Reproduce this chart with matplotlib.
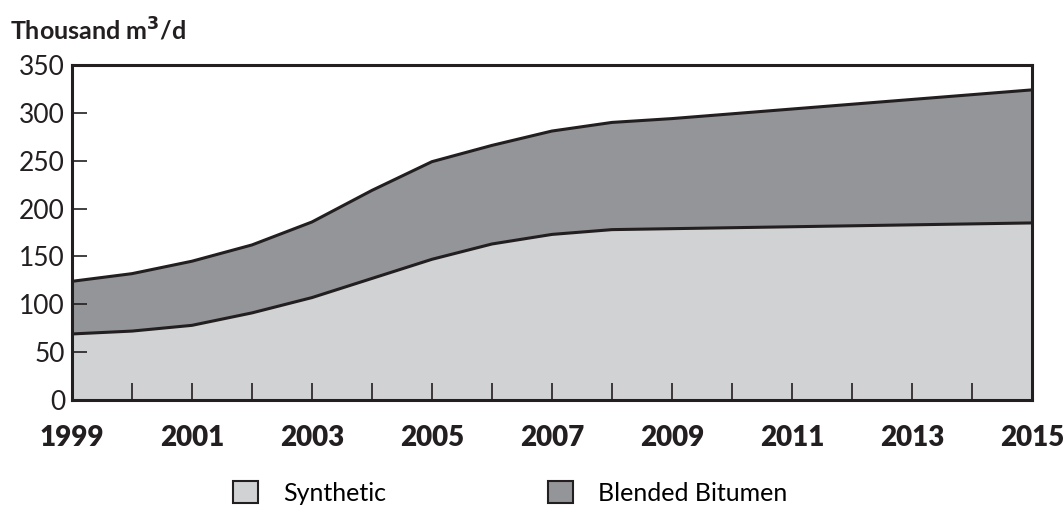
import matplotlib.pyplot as plt
from matplotlib.patches import Patch
import numpy as np

plt.rcParams['font.family'] = ['Lato', 'DejaVu Sans']

# Thousand m3/d
years = np.arange(1999, 2016)
synthetic = [69, 72, 78, 91, 107, 127, 147, 163, 173, 178, 179, 180, 181, 182, 183, 184, 185]
bitumen = [55, 60, 67, 71, 79, 92, 102, 103, 108, 112, 115, 119, 123, 127, 131, 135, 139]
year_labels = [str(y) for y in range(1999, 2016, 2)]

light = '#d1d2d4'
dark = '#939598'
ink = '#231f20'

total = np.array(synthetic) + np.array(bitumen)

fig = plt.figure(figsize=(10.63, 5.15), dpi=100)
ax = fig.add_axes([0.0677, 0.2233, 0.9031, 0.6505])

ax.fill_between(years, 0, synthetic, color=light, lw=0)
ax.fill_between(years, synthetic, total, color=dark, lw=0)
ax.plot(years, synthetic, color=ink, lw=2.2)
ax.plot(years, total, color=ink, lw=2.2)

ax.set_xlim(1999, 2015)
ax.set_ylim(0, 350)

for s in ax.spines.values():
    s.set_linewidth(2.2)
    s.set_color(ink)

ax.set_xticks(years, minor=True)
ax.set_xticks(range(1999, 2016, 2))
ax.set_xticklabels(year_labels, fontsize=20, fontweight='heavy', color=ink)
ax.tick_params(axis='x', which='both', direction='in', length=12, width=1.2, color=ink, pad=18)

ax.set_yticks(range(0, 351, 50))
ax.set_yticklabels([str(v) for v in range(0, 351, 50)], fontsize=19, color=ink)
ax.tick_params(axis='y', direction='in', length=11, width=1.2, color=ink, pad=5)

fig.text(0.009, 0.94, 'Thousand m$^\\mathbf{3}$/d', fontsize=18, fontweight='bold',
         color=ink, ha='left', va='center')

handles = [Patch(facecolor=light, edgecolor=ink, lw=1.5, label='Synthetic'),
           Patch(facecolor=dark, edgecolor=ink, lw=1.5, label='Blended Bitumen')]
fig.legend(handles=handles, loc='center', bbox_to_anchor=(0.48, 0.043), ncol=2,
           frameon=False, fontsize=18, handlelength=1.0, handleheight=1.0,
           handletextpad=1.0, columnspacing=6.5)

fig.savefig('out.png', dpi=100)
